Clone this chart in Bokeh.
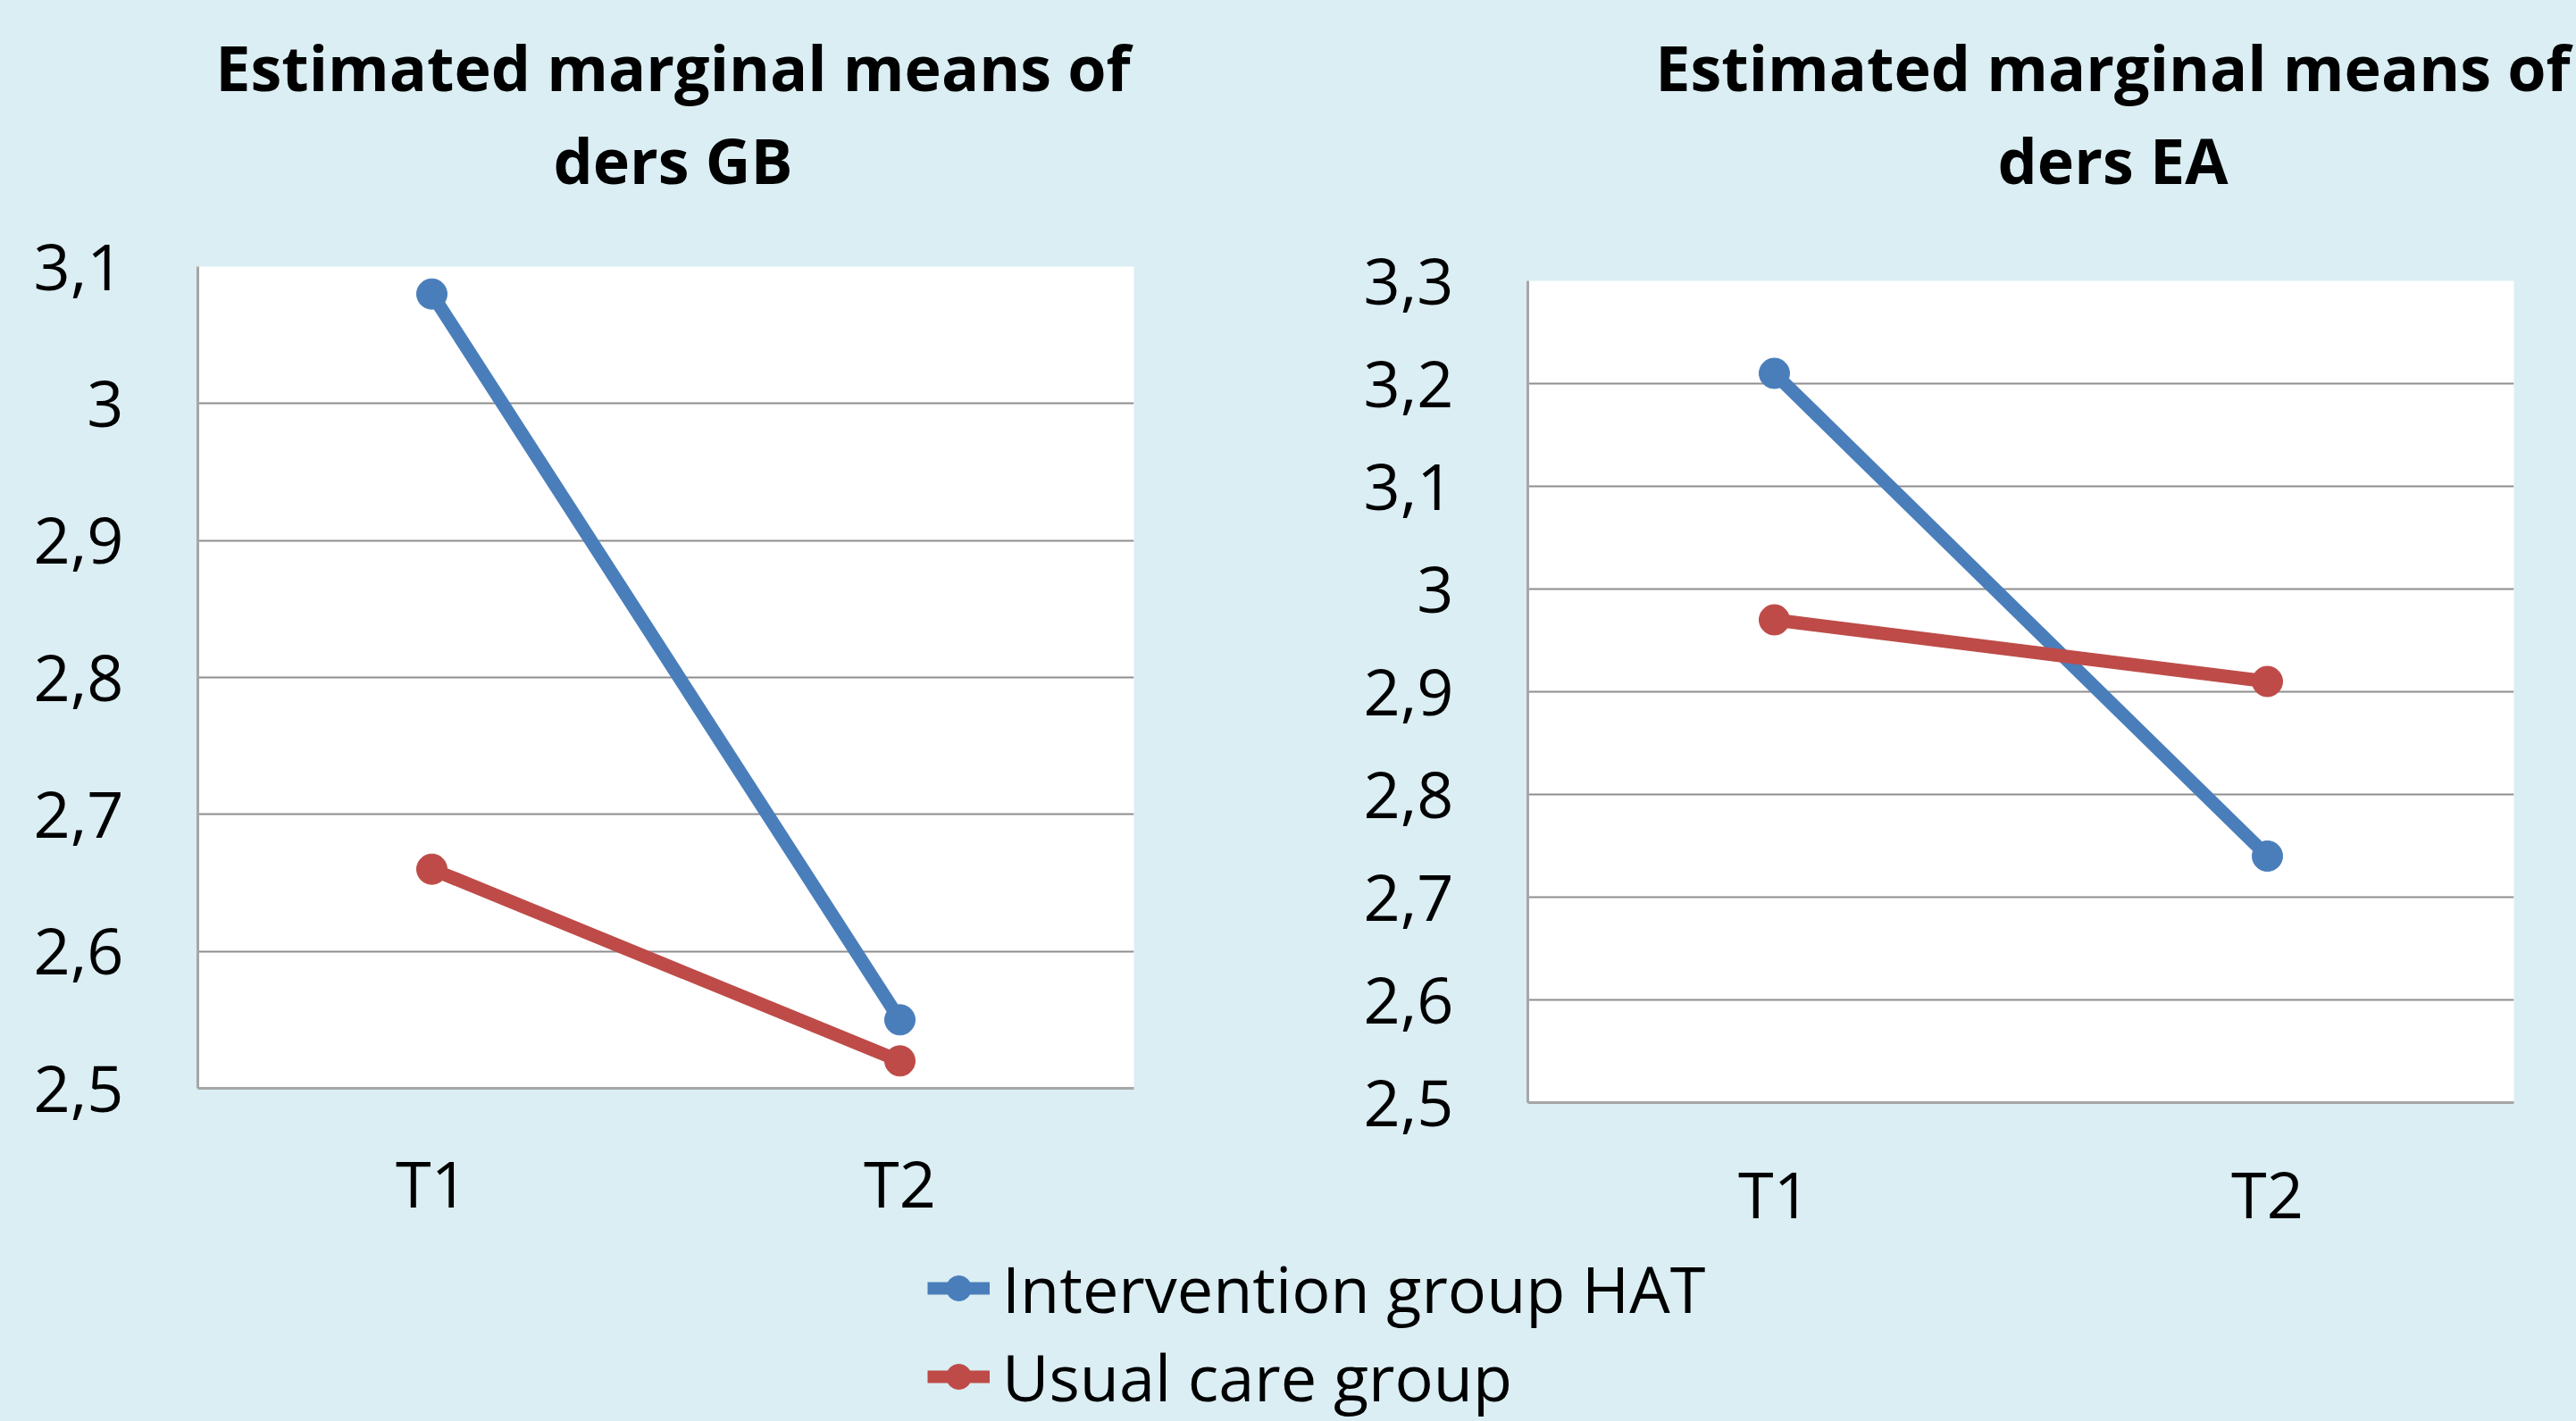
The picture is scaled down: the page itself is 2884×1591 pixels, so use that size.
from bokeh.plotting import figure
from bokeh.layouts import column, row
from bokeh.models import (FactorRange, Range1d, FixedTicker, CustomJSTickFormatter,
                          Label, Legend, LegendItem, ColumnDataSource, Spacer)
from bokeh.embed import file_html
from bokeh.resources import INLINE

# ---------------- data ----------------
times = ["T1", "T2"]
series_names = ["Intervention group HAT", "Usual care group"]

gb_intervention = [3.08, 2.55]
gb_usual = [2.66, 2.52]
ea_intervention = [3.21, 2.74]
ea_usual = [2.97, 2.91]

gb_ticks = [2.5, 2.6, 2.7, 2.8, 2.9, 3.0, 3.1]
gb_tick_labels = ["2,5", "2,6", "2,7", "2,8", "2,9", "3", "3,1"]
ea_ticks = [2.5, 2.6, 2.7, 2.8, 2.9, 3.0, 3.1, 3.2, 3.3]
ea_tick_labels = ["2,5", "2,6", "2,7", "2,8", "2,9", "3", "3,1", "3,2", "3,3"]

title_line1 = "Estimated marginal means of"
gb_title2 = "ders GB"
ea_title2 = "ders EA"

# ---------------- style / layout ----------------
BG = "#DAEEF3"
BLUE = "#4A7EBB"
RED = "#BE4B48"
GRID = "#8E8E8E"
AXIS = "#A6A6A6"
FONT = "Open Sans"
FS = "72px"
TITLE_FS = "70px"

PAGE_W = 2884
TITLE_H = 230
ROW_H = 1162
LEG_H = 1591 - TITLE_H - ROW_H
FRAME_H = 920
TOP = 68
W1 = 1488
W2 = PAGE_W - W1
SHIFT2 = 16


def make_chart(width, height, frame_left, frame_w, ticks, tick_labels, s_int, s_usual, x_standoff):
    p = figure(width=width, height=height, x_range=FactorRange(*times),
               y_range=Range1d(ticks[0], ticks[-1]), output_backend="svg",
               toolbar_location=None, min_border_left=frame_left,
               min_border_right=width - frame_left - frame_w, min_border_top=TOP,
               min_border_bottom=height - TOP - FRAME_H)
    p.background_fill_color = "white"
    p.border_fill_color = BG
    p.outline_line_color = None

    p.yaxis.ticker = FixedTicker(ticks=ticks)
    p.yaxis.formatter = CustomJSTickFormatter(args=dict(vals=ticks, labs=tick_labels), code="""
        for (let i = 0; i < vals.length; i++) {
            if (Math.abs(vals[i] - tick) < 1e-9) { return labs[i]; }
        }
        return '';
    """)
    for ax in (p.xaxis[0], p.yaxis[0]):
        ax.major_tick_line_color = None
        ax.minor_tick_line_color = None
        ax.major_tick_in = 0
        ax.major_tick_out = 0
        ax.minor_tick_in = 0
        ax.minor_tick_out = 0
        ax.axis_line_color = AXIS
        ax.axis_line_width = 3
        ax.major_label_text_font = FONT
        ax.major_label_text_font_size = FS
        ax.major_label_text_color = "black"
    p.yaxis.major_label_standoff = 83
    p.xaxis.major_label_standoff = x_standoff
    p.xgrid.grid_line_color = None
    p.ygrid.grid_line_color = GRID
    p.ygrid.grid_line_width = 2

    p.line(times, s_int, line_color=BLUE, line_width=15)
    p.scatter(times, s_int, size=34, fill_color=BLUE, line_color=BLUE)
    p.line(times, s_usual, line_color=RED, line_width=15)
    p.scatter(times, s_usual, size=34, fill_color=RED, line_color=RED)
    return p


def blank_strip(height):
    s = figure(width=PAGE_W, height=height, output_backend="svg", toolbar_location=None,
               x_axis_type=None, y_axis_type=None, min_border=0,
               x_range=FactorRange(*times), y_range=Range1d(0, 1))
    s.background_fill_color = BG
    s.border_fill_color = BG
    s.outline_line_color = None
    s.grid.visible = False
    return s


# ---------------- title strip ----------------
pt = blank_strip(TITLE_H)
for tx, (l1_txt, l2_txt) in ((753, (title_line1, gb_title2)), (2365, (title_line1, ea_title2))):
    for txt, ty in ((l1_txt, 156), (l2_txt, 52)):
        pt.add_layout(Label(x=tx, y=ty, x_units="screen", y_units="screen", text=txt,
                            text_font=FONT, text_font_style="bold", text_font_size=TITLE_FS,
                            text_color="black", text_align="center",
                            text_baseline="alphabetic"))

# ---------------- charts ----------------
p1 = make_chart(W1, ROW_H, 221, 1048, gb_ticks, gb_tick_labels,
                gb_intervention, gb_usual, 56)
p2 = make_chart(W2, ROW_H - SHIFT2, 222, 1104, ea_ticks, ea_tick_labels,
                ea_intervention, ea_usual, 52)
right_col = column(Spacer(width=W2, height=SHIFT2, styles={"background-color": BG}), p2)

# ---------------- legend strip ----------------
pl = blank_strip(LEG_H)
# series data lie outside this strip's y range: only their legend glyphs show
src_int = ColumnDataSource(data=dict(x=times, y=gb_intervention))
src_usual = ColumnDataSource(data=dict(x=times, y=gb_usual))
g1 = pl.line("x", "y", source=src_int, line_color=BLUE, line_width=14)
m1 = pl.scatter("x", "y", source=src_int, size=30, fill_color=BLUE, line_color=BLUE)
g2 = pl.line("x", "y", source=src_usual, line_color=RED, line_width=14)
m2 = pl.scatter("x", "y", source=src_usual, size=30, fill_color=RED, line_color=RED)

legend = Legend(items=[LegendItem(label=series_names[0], renderers=[g1, m1]),
                       LegendItem(label=series_names[1], renderers=[g2, m2])],
                location=(1038, 1), orientation="vertical",
                label_text_font=FONT, label_text_font_size=FS, label_text_color="black",
                glyph_width=70, glyph_height=88, label_standoff=14, spacing=1,
                padding=0, margin=0, border_line_color=None, background_fill_alpha=0)
pl.add_layout(legend, "center")

layout = column(pt, row(p1, right_col), pl)

html = file_html(layout, INLINE)
html = html.replace("<head>",
                    "<head><style>html, body { background: %s; margin: 0; padding: 0; }</style>" % BG, 1)
open("out.html", "w").write(html)
